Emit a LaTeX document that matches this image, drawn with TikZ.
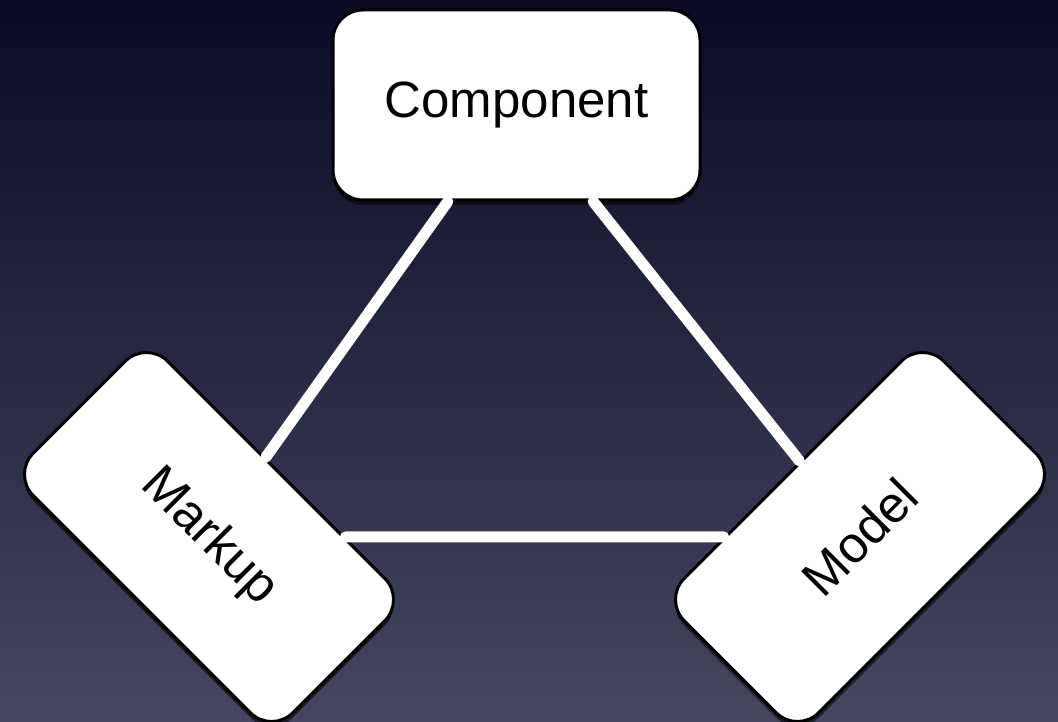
\documentclass[tikz,border=0pt]{standalone}
\usepackage{fontspec}
\setmainfont{Liberation Sans}
\usetikzlibrary{shadows}
\definecolor{bgtop}{RGB}{10,10,36}
\definecolor{bgmid}{RGB}{38,37,64}
\definecolor{bgbot}{RGB}{70,70,96}
\tikzset{
  box/.style={draw=black, line width=3pt, fill=white, rounded corners=30pt,
    minimum width=367pt, minimum height=190pt, inner sep=0pt,
    font=\fontsize{51}{60}\selectfont, text=black,
    drop shadow={shadow xshift=0pt, shadow yshift=-5pt, opacity=0.55, fill=black}},
  link/.style={draw=white, line width=11pt, line cap=round}
}
\begin{document}
\begin{tikzpicture}[x=1pt,y=1pt]
  \shade[top color=bgtop, middle color=bgmid, bottom color=bgbot] (0,0) rectangle (1058,721);
  \useasboundingbox (0,0) rectangle (1058,721);
  \node[box] (comp) at (516.5,616) {Component};
  \node[box, rotate=-45] (markup) at (209,184) {Markup};
  \node[box, rotate=45] (model) at (860,184) {Model};
  \draw[link] (comp) -- (markup);
  \draw[link] (comp) -- (model);
  \draw[link] (markup) -- (model);
\end{tikzpicture}
\end{document}
